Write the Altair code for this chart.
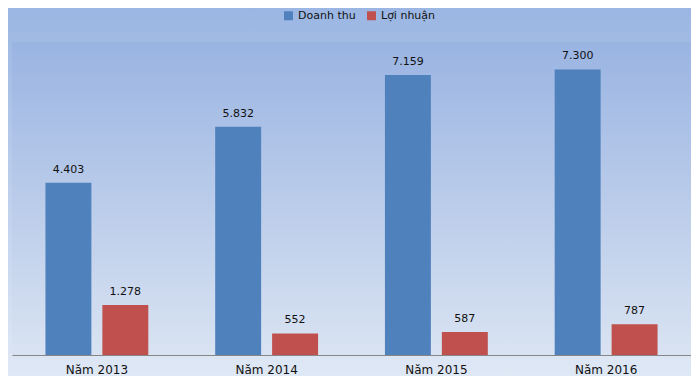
import altair as alt
import pandas as pd

years = ["Năm 2013", "Năm 2014", "Năm 2015", "Năm 2016"]
series = ["Doanh thu", "Lợi nhuận"]
doanh_thu = [4403, 5832, 7159, 7300]
loi_nhuan = [1278, 552, 587, 787]
colors = ["#4f81bd", "#c0504d"]

def fmt(v):
    return f"{v:,}".replace(",", ".")

rows = []
for i, y in enumerate(years):
    rows.append({"year": y, "series": series[0], "value": doanh_thu[i], "label": fmt(doanh_thu[i])})
    rows.append({"year": y, "series": series[1], "value": loi_nhuan[i], "label": fmt(loi_nhuan[i])})
df = pd.DataFrame(rows)

W, H = 679, 313
FONT = "DejaVu Sans"

bg = alt.Chart(alt.Data(values=[{}])).mark_rect(
    color=alt.LinearGradient(
        gradient="linear", x1=0, y1=0, x2=0, y2=1,
        stops=[alt.GradientStop(offset=0, color="#9bb6e3"),
               alt.GradientStop(offset=1, color="#dfe8f5")]
    )
).encode(x=alt.value(-4), x2=alt.value(W + 4), y=alt.value(-34), y2=alt.value(H + 21))

plotbg = alt.Chart(alt.Data(values=[{}])).mark_rect(
    color=alt.LinearGradient(
        gradient="linear", x1=0, y1=0, x2=0, y2=1,
        stops=[alt.GradientStop(offset=0, color="#9ab4e2"),
               alt.GradientStop(offset=1, color="#d9e3f2")]
    )
).encode(x=alt.value(0), x2=alt.value(W), y=alt.value(0), y2=alt.value(H))

xscale = alt.Scale(domain=years, paddingInner=0.394, paddingOuter=0.197)
xoff = alt.Scale(domain=series, paddingInner=0.193, paddingOuter=0)
yscale = alt.Scale(domain=[0, 8000])

base = alt.Chart(df).encode(
    x=alt.X("year:N", scale=xscale, sort=years,
            axis=alt.Axis(title=None, labelAngle=0, ticks=False, grid=False,
                          domainColor="#868686", domainWidth=1, zindex=1,
                          labelFont=FONT, labelFontSize=12, labelColor="#111111",
                          labelPadding=9)),
    xOffset=alt.XOffset("series:N", scale=xoff, sort=series),
    y=alt.Y("value:Q", scale=yscale, axis=None),
)

bars = base.mark_bar().encode(
    color=alt.Color("series:N", scale=alt.Scale(domain=series, range=colors),
                    legend=alt.Legend(title=None, orient="none", direction="horizontal",
                                      legendX=271, legendY=-32, symbolType="square",
                                      symbolSize=80, symbolStrokeWidth=0,
                                      labelFont=FONT, labelFontSize=11, zindex=1,
                                      labelColor="#111111", columnPadding=10,
                                      symbolOpacity=1))
)

labels = base.mark_text(baseline="bottom", dy=-8, font=FONT, fontSize=11, color="#111111").encode(
    text="label:N"
)

chart = alt.layer(bg, plotbg, bars, labels).properties(
    width=W, height=H,
    padding={"left": 4, "top": 34, "right": 0, "bottom": 21},
    autosize=alt.AutoSizeParams(type="none"),
).configure_view(stroke=None)

chart.save("out.html", embed_options={"renderer": "svg", "actions": False})
